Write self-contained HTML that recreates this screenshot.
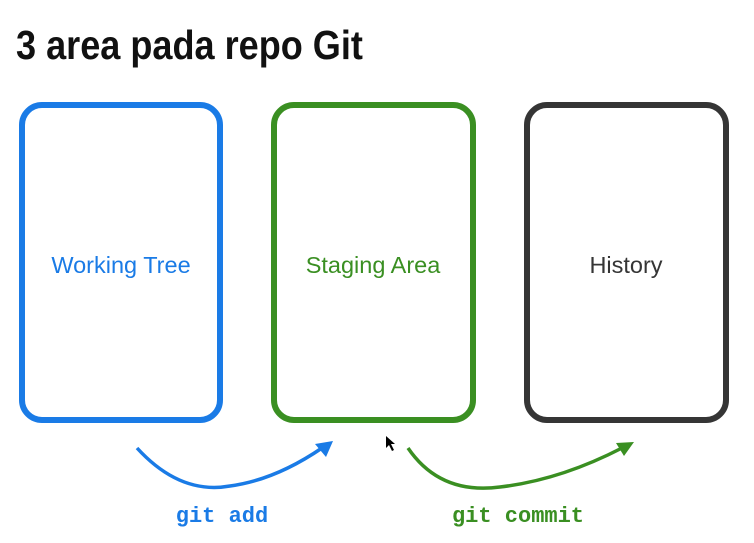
<!DOCTYPE html>
<html><head><style>
body{margin:0;background:#fff;width:754px;height:543px;overflow:hidden;position:relative;font-family:"Liberation Sans",sans-serif}
.t{position:absolute;left:16px;top:22px;font-family:"Liberation Sans",sans-serif;font-weight:bold;font-size:41px;color:#111;white-space:nowrap;transform:scaleX(0.88);transform-origin:left}
</style></head><body>
<div class="t">3 area pada repo Git</div>
<svg width="754" height="543" style="position:absolute;left:0;top:0">
<rect x="22" y="105" width="198" height="315" rx="20" fill="none" stroke="#1a7be6" stroke-width="6"/>
<rect x="274" y="105" width="199" height="315" rx="20" fill="none" stroke="#3a8f22" stroke-width="6"/>
<rect x="527" y="105" width="199" height="315" rx="20" fill="none" stroke="#353535" stroke-width="6"/>
<text x="121" y="273" text-anchor="middle" font-size="23.5" fill="#1a7be6" font-family="Liberation Sans">Working Tree</text>
<text x="373" y="273" text-anchor="middle" font-size="23.5" fill="#3a8f22" font-family="Liberation Sans">Staging Area</text>
<text x="626" y="273" text-anchor="middle" font-size="23.5" fill="#353535" font-family="Liberation Sans">History</text>
<path d="M137,448 Q180,495 230,486 Q275,480 322,448" fill="none" stroke="#1a7be6" stroke-width="3.5"/>
<polygon points="333,441 315,444 326,457" fill="#1a7be6"/>
<path d="M408,448 Q440,495 500,487 Q560,480 622,448" fill="none" stroke="#3a8f22" stroke-width="3.5"/>
<polygon points="634,442 616,443 624,456" fill="#3a8f22"/>
<text x="222" y="522" text-anchor="middle" font-size="22" font-weight="bold" fill="#1a7be6" font-family="Liberation Mono,monospace">git add</text>
<text x="518" y="522" text-anchor="middle" font-size="22" font-weight="bold" fill="#3a8f22" font-family="Liberation Mono,monospace">git commit</text>
<polygon points="386,436 386,448 389,445 392,451 394,450 391,444 395,444" fill="#000"/>
</svg>
</body></html>
